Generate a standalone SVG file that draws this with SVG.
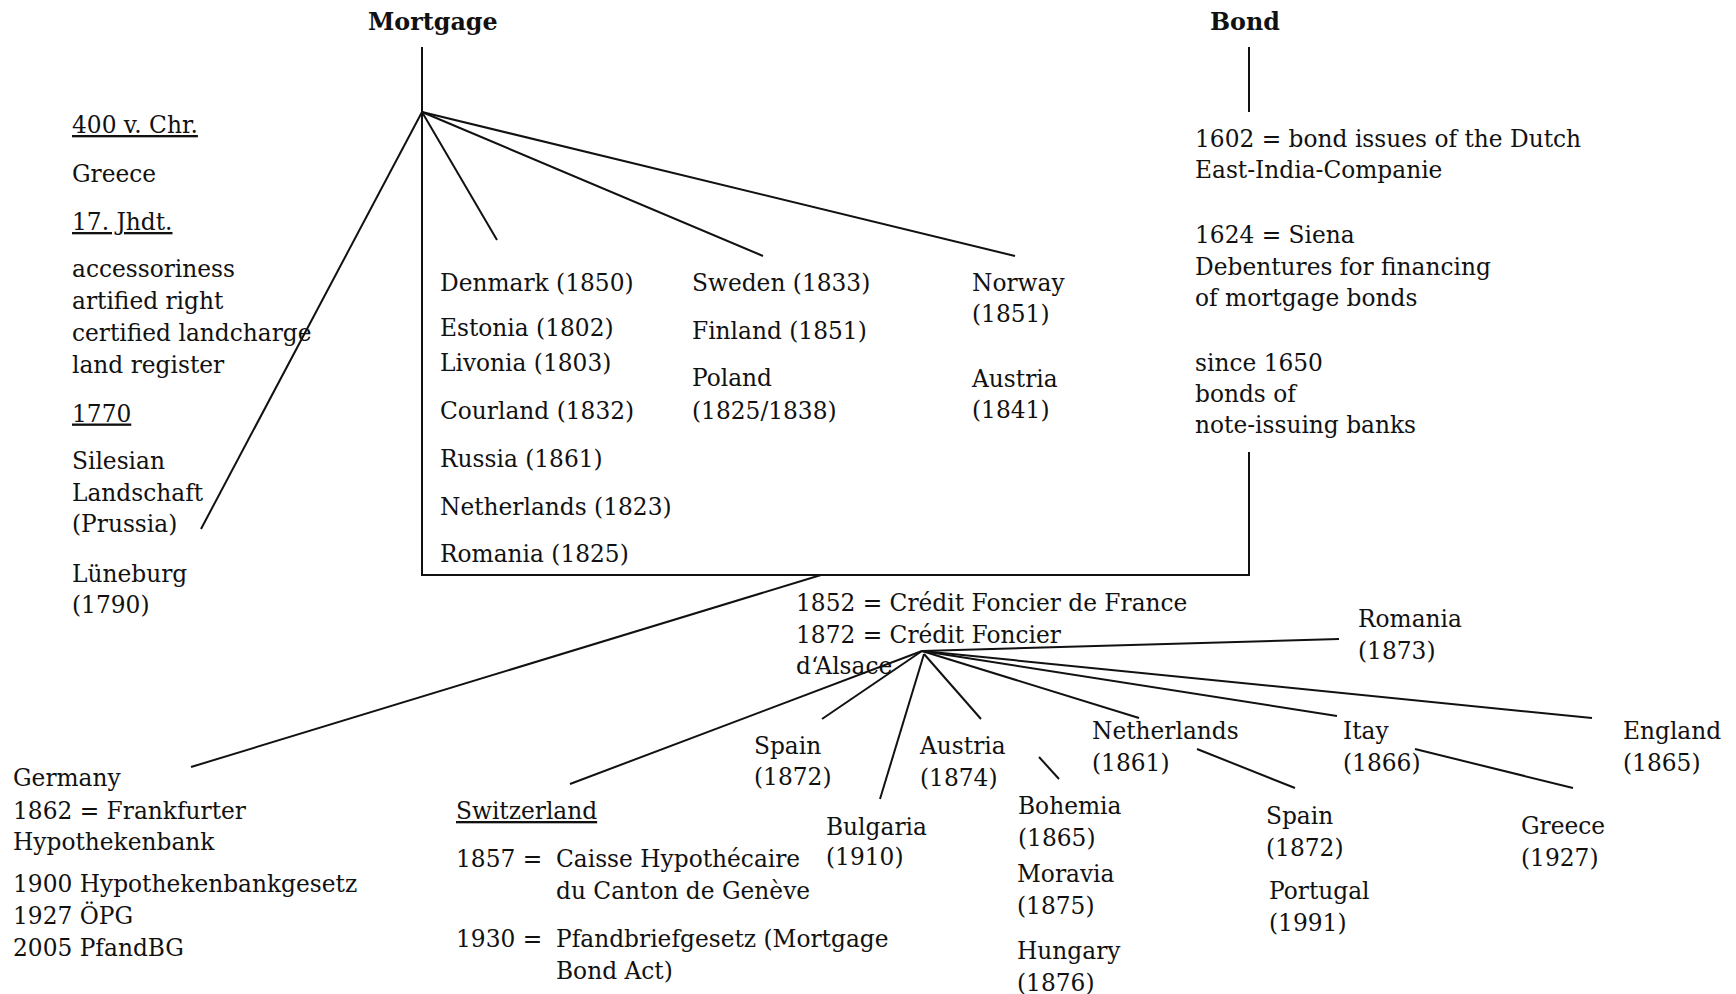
<svg xmlns="http://www.w3.org/2000/svg" width="1736" height="994" viewBox="0 0 1736 994">
<style>
text{font-family:"DejaVu Serif","Liberation Serif",serif;font-size:23.3px;fill:#111}
.b{font-weight:bold;font-size:23.8px}
.u{text-decoration:underline}
.c line,.c path{stroke:#111;stroke-width:2;fill:none}
</style>
<rect width="1736" height="994" fill="#fff"/>
<g id="connectors" class="c">
<line x1="422" y1="47" x2="422" y2="112"/>
<path d="M422,112 V575 H1249 V452"/>
<line x1="1249" y1="47" x2="1249" y2="112"/>
<line x1="422" y1="112" x2="201" y2="529"/>
<line x1="422" y1="112" x2="497" y2="240"/>
<line x1="422" y1="112" x2="763" y2="256"/>
<line x1="422" y1="112" x2="1015" y2="256"/>
<line x1="821" y1="575" x2="191" y2="767"/>
<line x1="922" y1="651" x2="570" y2="784"/>
<line x1="922" y1="651" x2="822" y2="719"/>
<line x1="924" y1="654" x2="880" y2="799"/>
<line x1="924" y1="654" x2="981" y2="719"/>
<line x1="922" y1="651" x2="1139" y2="718"/>
<line x1="922" y1="651" x2="1337" y2="716"/>
<line x1="922" y1="651" x2="1592" y2="718"/>
<line x1="922" y1="651" x2="1339" y2="639"/>
<line x1="1039" y1="757" x2="1059" y2="779"/>
<line x1="1197" y1="749" x2="1295" y2="788"/>
<line x1="1415" y1="749" x2="1573" y2="788"/>
</g>
<g id="mortgage"><text class="b" x="368" y="30">Mortgage</text></g>
<g id="bond"><text class="b" x="1210" y="30">Bond</text></g>
<g id="history">
<text class="u" x="72" y="133">400 v. Chr.</text>
<text x="72" y="181.5">Greece</text>
<text class="u" x="72" y="230">17. Jhdt.</text>
<text x="72" y="277">accessoriness</text>
<text x="72" y="309">artified right</text>
<text x="72" y="341">certified landcharge</text>
<text x="72" y="373">land register</text>
<text class="u" x="72" y="421.5">1770</text>
<text x="72" y="469">Silesian</text>
<text x="72" y="501">Landschaft</text>
<text x="72" y="532">(Prussia)</text>
<text x="72" y="582">Lüneburg</text>
<text x="72" y="613">(1790)</text>
</g>
<g id="col1">
<text x="440" y="291">Denmark (1850)</text>
<text x="440" y="335.5">Estonia (1802)</text>
<text x="440" y="371">Livonia (1803)</text>
<text x="440" y="418.5">Courland (1832)</text>
<text x="440" y="467">Russia (1861)</text>
<text x="440" y="515">Netherlands (1823)</text>
<text x="440" y="562">Romania (1825)</text>
</g>
<g id="col2">
<text x="692" y="291">Sweden (1833)</text>
<text x="692" y="338.5">Finland (1851)</text>
<text x="692" y="386">Poland</text>
<text x="692" y="418.5">(1825/1838)</text>
</g>
<g id="col3">
<text x="972" y="291">Norway</text>
<text x="972" y="322">(1851)</text>
<text x="972" y="386.5">Austria</text>
<text x="972" y="418">(1841)</text>
</g>
<g id="bond-history">
<text x="1195" y="147">1602 = bond issues of the Dutch</text>
<text x="1195" y="178">East-India-Companie</text>
<text x="1195" y="243">1624 = Siena</text>
<text x="1195" y="275">Debentures for financing</text>
<text x="1195" y="306">of mortgage bonds</text>
<text x="1195" y="371">since 1650</text>
<text x="1195" y="402">bonds of</text>
<text x="1195" y="433">note-issuing banks</text>
</g>
<g id="credit-foncier">
<text x="796" y="611">1852 = Crédit Foncier de France</text>
<text x="796" y="643">1872 = Crédit Foncier</text>
<text x="796" y="674">d‘Alsace</text>
</g>
<g id="germany">
<text x="13" y="786">Germany</text>
<text x="13" y="819">1862 = Frankfurter</text>
<text x="13" y="850">Hypothekenbank</text>
<text x="13" y="892">1900 Hypothekenbankgesetz</text>
<text x="13" y="924">1927 ÖPG</text>
<text x="13" y="956">2005 PfandBG</text>
</g>
<g id="switzerland">
<text class="u" x="456" y="819">Switzerland</text>
<text x="456" y="867">1857 =</text>
<text x="556" y="867">Caisse Hypothécaire</text>
<text x="556" y="899">du Canton de Genève</text>
<text x="456" y="947">1930 =</text>
<text x="556" y="947">Pfandbriefgesetz (Mortgage</text>
<text x="556" y="979">Bond Act)</text>
</g>
<g id="romania"><text x="1358" y="627">Romania</text><text x="1358" y="659">(1873)</text></g>
<g id="spain1"><text x="754" y="754">Spain</text><text x="754" y="785">(1872)</text></g>
<g id="bulgaria"><text x="826" y="835">Bulgaria</text><text x="826" y="865">(1910)</text></g>
<g id="austria"><text x="920" y="754">Austria</text><text x="920" y="786">(1874)</text></g>
<g id="bohemia"><text x="1018" y="814">Bohemia</text><text x="1018" y="846">(1865)</text></g>
<g id="moravia"><text x="1017" y="882">Moravia</text><text x="1017" y="914">(1875)</text></g>
<g id="hungary"><text x="1017" y="959">Hungary</text><text x="1017" y="991">(1876)</text></g>
<g id="netherlands"><text x="1092" y="739">Netherlands</text><text x="1092" y="771">(1861)</text></g>
<g id="spain2"><text x="1266" y="824">Spain</text><text x="1266" y="856">(1872)</text></g>
<g id="portugal"><text x="1269" y="899">Portugal</text><text x="1269" y="931">(1991)</text></g>
<g id="itay"><text x="1343" y="739">Itay</text><text x="1343" y="771">(1866)</text></g>
<g id="england"><text x="1623" y="739">England</text><text x="1623" y="771">(1865)</text></g>
<g id="greece"><text x="1521" y="834">Greece</text><text x="1521" y="866">(1927)</text></g>
</svg>
